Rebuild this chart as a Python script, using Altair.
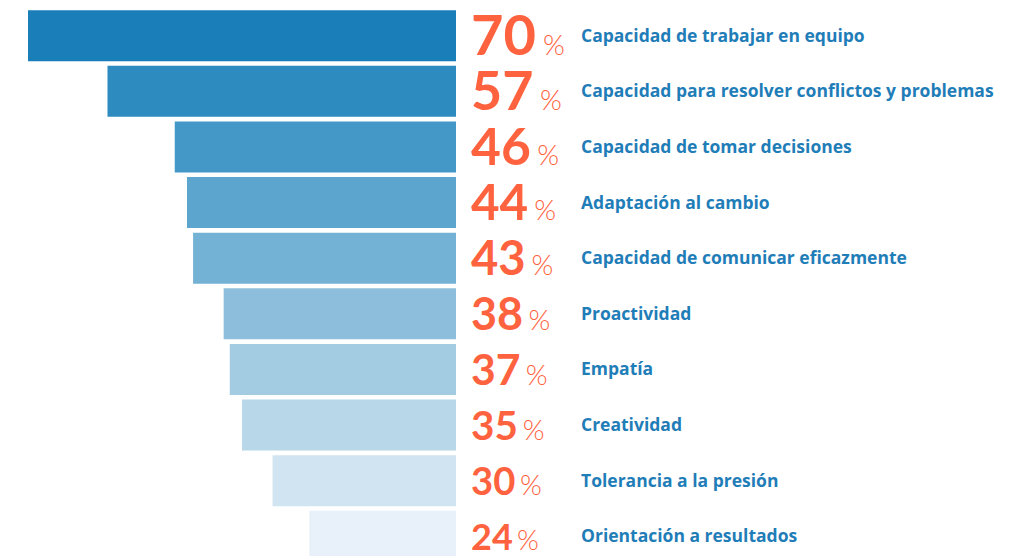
import altair as alt
import pandas as pd

skills = [
    "Capacidad de trabajar en equipo",
    "Capacidad para resolver conflictos y problemas",
    "Capacidad de tomar decisiones",
    "Adaptación al cambio",
    "Capacidad de comunicar eficazmente",
    "Proactividad",
    "Empatía",
    "Creatividad",
    "Tolerancia a la presión",
    "Orientación a resultados",
]
values = [70, 57, 46, 44, 43, 38, 37, 35, 30, 24]
bar_colors = [
    "#1a7eb9", "#2d8bc0", "#4498c7", "#5ca5ce", "#73b1d5",
    "#8dbfdc", "#a3cbe2", "#b8d7e9", "#d0e4f1", "#e8f1f9",
]

df = pd.DataFrame({"skill": skills, "value": values})
df["label"] = df["value"].astype(str)
df["pct"] = "%"

FONT = "Lato"
LABEL_FONT = "Open Sans"
ORANGE = "#ff623e"
BLUE = "#1f7db8"

base = alt.Chart(df).transform_window(
    rank="rank()", sort=[alt.SortField("value", order="descending")]
)

yband = alt.Y(
    "skill:N",
    sort=skills,
    axis=None,
    scale=alt.Scale(range=[0, 556], paddingInner=0.083, paddingOuter=0.04),
)

bars = base.mark_bar().encode(
    x=alt.X("value:Q", axis=None, scale=alt.Scale(domain=[0, 70], range=[448, 20])),
    x2=alt.datum(0),
    y=yband,
    color=alt.Color("skill:N", sort=skills, scale=alt.Scale(domain=skills, range=bar_colors), legend=None),
)

labels = base.mark_text(
    align="left", baseline="middle", dy=1, font=LABEL_FONT, fontWeight="bold", fontSize=17.5, color=BLUE
).encode(
    x=alt.value(573),
    y=yband,
    text="skill:N",
)

band_layer = alt.layer(bars, labels)

ybase = alt.Y("rank:Q", axis=None, scale=alt.Scale(domain=[1, 10], range=[47, 542]))

numbers = base.mark_text(
    align="left", baseline="alphabetic", font=FONT, fontWeight="bold", color=ORANGE
).encode(
    x=alt.value(463),
    y=ybase,
    size=alt.Size("rank:Q", scale=alt.Scale(domain=[1, 10], range=[56, 36]), legend=None),
    text="label:N",
)

pcts = base.mark_text(
    align="left", baseline="alphabetic", font=FONT, fontWeight=300, fontSize=28, color=ORANGE
).encode(
    x=alt.X("rank:Q", axis=None, scale=alt.Scale(domain=[1, 10], range=[535, 509])),
    y=ybase,
    text="pct:N",
)

num_layer = alt.layer(numbers, pcts).resolve_scale(x="independent")

chart = (
    alt.layer(band_layer, num_layer)
    .resolve_scale(x="independent", y="independent", size="independent")
    .properties(
        width=1013,
        height=548,
        padding=0,
        autosize=alt.AutoSizeParams(type="none"),
    )
    .configure_view(strokeWidth=0)
)

chart.save("out.html", embed_options={"renderer": "svg", "actions": False})
